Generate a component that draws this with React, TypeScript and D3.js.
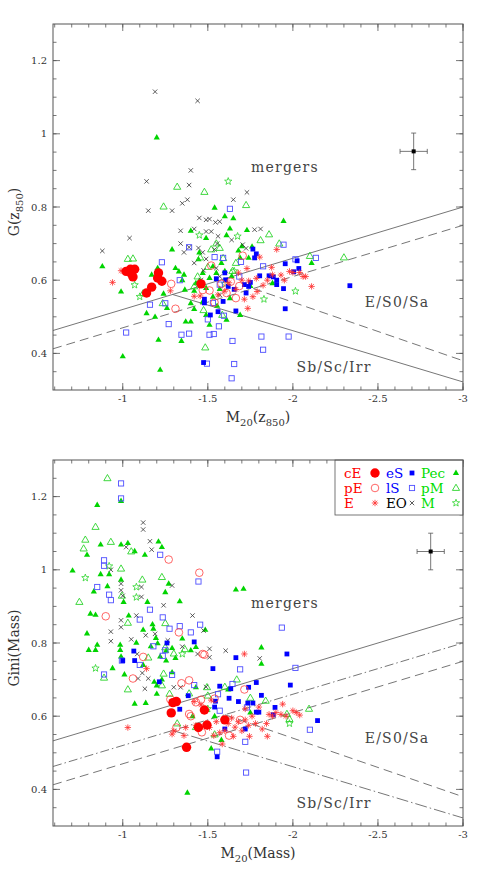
import React from 'react';
import * as d3 from 'd3';

type Pt = [number, number];

// axis setup
const xDomain: [number, number] = [-0.59, -3];
const yDomain: [number, number] = [0.3, 1.3];
const xTicks = [-1, -1.5, -2, -2.5, -3];
const yTicks = [0.4, 0.6, 0.8, 1, 1.2];

// ---------- top panel: G(z850) vs M20(z850) ----------
const topCE: Pt[] = [[-1.02,0.624],[-1.045,0.63],[-1.07,0.63],[-1.05,0.618],[-1.06,0.609],[-1.21,0.62],[-1.205,0.606],[-1.23,0.597],[-1.17,0.581],[-1.14,0.565],[-1.46,0.59]];
const topPE: Pt[] = [[-1.705,0.667],[-1.285,0.59],[-1.31,0.522],[-1.54,0.539],[-1.665,0.551],[-1.635,0.596],[-1.51,0.572],[-1.685,0.584],[-1.61,0.565],[-1.52,0.64],[-1.47,0.573],[-1.58,0.59]];
const topE: Pt[] = [[-0.94,0.594],[-0.99,0.626],[-1.73,0.632],[-1.805,0.663],[-1.905,0.684],[-1.875,0.635],[-1.93,0.614],[-1.98,0.624],[-2.04,0.621],[-2.075,0.61],[-2.11,0.583],[-1.735,0.523],[-1.79,0.569],[-1.765,0.555],[-1.74,0.598],[-1.825,0.586],[-1.785,0.605],[-1.665,0.575],[-1.625,0.593],[-1.42,0.556],[-1.455,0.557],[-1.28,0.571],[-1.715,0.548],[-2.0,0.621],[-1.85,0.6],[-1.7,0.6],[-1.6,0.57],[-1.56,0.56],[-1.68,0.62],[-1.88,0.615],[-1.95,0.6],[-2.06,0.61]];
const topES: Pt[] = [[-1.765,0.685],[-1.785,0.672],[-1.775,0.661],[-1.955,0.645],[-2.025,0.653],[-2.035,0.632],[-2.005,0.623],[-1.86,0.612],[-1.885,0.609],[-1.905,0.6],[-1.905,0.588],[-1.945,0.577],[-1.955,0.522],[-2.335,0.585],[-1.805,0.612],[-1.75,0.594],[-1.74,0.583],[-1.715,0.588],[-1.725,0.565],[-1.605,0.601],[-1.55,0.604],[-1.655,0.575],[-1.62,0.583],[-1.59,0.542],[-1.56,0.514],[-1.515,0.505],[-1.48,0.548],[-1.48,0.538],[-1.475,0.375],[-1.665,0.516],[-1.6,0.62]];
const topLS: Pt[] = [[-1.63,0.795],[-1.945,0.697],[-1.39,0.69],[-1.23,0.649],[-1.54,0.663],[-1.59,0.661],[-1.695,0.65],[-2.135,0.661],[-2.015,0.657],[-1.825,0.638],[-1.335,0.6],[-1.25,0.537],[-1.16,0.533],[-1.27,0.48],[-1.02,0.457],[-1.345,0.451],[-1.39,0.454],[-1.5,0.493],[-1.51,0.451],[-1.535,0.453],[-1.565,0.474],[-1.595,0.503],[-1.645,0.434],[-1.815,0.446],[-1.975,0.446],[-1.825,0.41],[-1.495,0.372],[-1.655,0.371],[-1.64,0.332],[-1.53,0.538],[-1.57,0.588],[-1.685,0.61]];
const topEO: Pt[] = [[-1.19,1.115],[-1.44,1.09],[-1.4,0.9],[-1.14,0.87],[-1.39,0.86],[-1.38,0.82],[-1.35,0.81],[-1.15,0.79],[-1.29,0.79],[-1.73,0.84],[-1.65,0.82],[-1.04,0.715],[-0.88,0.68],[-1.45,0.77],[-1.49,0.765],[-1.51,0.767],[-1.545,0.758],[-1.57,0.76],[-1.34,0.735],[-1.42,0.74],[-1.49,0.733],[-1.52,0.733],[-1.56,0.72],[-1.64,0.71],[-1.775,0.738],[-1.81,0.74],[-1.34,0.7],[-1.39,0.69],[-1.555,0.7],[-1.725,0.687],[-1.36,0.676],[-1.445,0.688],[-1.47,0.676],[-1.49,0.658],[-1.42,0.647],[-1.55,0.633],[-1.475,0.627],[-1.57,0.61],[-1.46,0.6],[-1.57,0.56],[-1.54,0.684],[-1.705,0.697]];
const topPec: Pt[] = [[-1.2,0.99],[-0.88,0.638],[-0.99,0.569],[-1.0,0.392],[-1.14,0.51],[-1.19,0.5],[-1.21,0.437],[-1.22,0.355],[-1.17,0.615],[-1.205,0.633],[-1.24,0.563],[-1.26,0.524],[-1.29,0.684],[-1.31,0.633],[-1.33,0.624],[-1.36,0.615],[-1.365,0.574],[-1.345,0.434],[-1.37,0.487],[-1.4,0.487],[-1.4,0.735],[-1.45,0.676],[-1.49,0.715],[-1.445,0.657],[-1.45,0.598],[-1.42,0.571],[-1.4,0.537],[-1.42,0.521],[-1.51,0.478],[-1.54,0.798],[-1.6,0.775],[-1.65,0.769],[-1.63,0.741],[-1.61,0.723],[-1.73,0.737],[-1.945,0.762],[-1.76,0.692],[-1.68,0.681],[-1.7,0.693],[-1.69,0.661],[-1.74,0.661],[-1.58,0.647],[-1.53,0.638],[-1.47,0.62],[-1.51,0.606],[-1.55,0.62],[-1.6,0.625],[-1.64,0.611],[-1.49,0.579],[-1.57,0.576],[-1.63,0.551],[-1.555,0.53],[-1.61,0.492],[-1.69,0.505],[-1.75,0.584],[-1.88,0.592],[-2.11,0.647],[-1.53,0.555],[-1.47,0.541],[-1.43,0.592],[-1.49,0.505],[-1.35,0.6]];
const topPM: Pt[] = [[-1.32,0.855],[-1.48,0.841],[-1.24,0.801],[-1.725,0.805],[-1.03,0.658],[-1.06,0.659],[-1.86,0.725],[-1.81,0.709],[-1.92,0.7],[-2.1,0.666],[-2.3,0.662],[-1.52,0.684],[-1.57,0.688],[-1.665,0.647],[-1.5,0.636],[-1.42,0.583],[-1.475,0.518],[-1.485,0.416],[-1.585,0.505],[-1.235,0.537],[-1.12,0.564],[-1.455,0.662],[-1.645,0.625],[-1.59,0.66],[-1.44,0.61],[-1.55,0.7]];
const topM: Pt[] = [[-1.62,0.87],[-1.675,0.72],[-1.07,0.587],[-2.015,0.57],[-1.45,0.723],[-1.655,0.625],[-1.1,0.555],[-1.83,0.548],[-1.6,0.59]];

// ---------- bottom panel: Gini(Mass) vs M20(Mass) ----------
const botCE: Pt[] = [[-1.295,0.637],[-1.315,0.64],[-1.285,0.609],[-1.48,0.617],[-1.375,0.515],[-1.445,0.569],[-1.495,0.576],[-1.6,0.59]];
const botPE: Pt[] = [[-1.27,1.028],[-0.9,0.873],[-1.45,0.992],[-1.33,0.829],[-1.06,0.703],[-1.12,0.762],[-1.39,0.698],[-1.47,0.77],[-1.48,0.768],[-1.28,0.646],[-1.43,0.638],[-1.46,0.645],[-1.54,0.648],[-1.715,0.673],[-1.315,0.569],[-1.39,0.606],[-1.465,0.556],[-1.625,0.547],[-1.345,0.69],[-1.4,0.6],[-1.69,0.59]];
const botE: Pt[] = [[-1.03,0.569],[-1.14,0.73],[-1.715,0.77],[-1.46,0.631],[-1.52,0.644],[-1.37,0.569],[-1.29,0.551],[-1.36,0.547],[-1.51,0.569],[-1.535,0.547],[-1.585,0.524],[-1.6,0.56],[-1.62,0.58],[-1.64,0.595],[-1.66,0.57],[-1.68,0.585],[-1.7,0.56],[-1.72,0.59],[-1.74,0.575],[-1.745,0.545],[-1.76,0.6],[-1.78,0.58],[-1.8,0.625],[-1.82,0.565],[-1.845,0.58],[-1.86,0.605],[-1.88,0.6],[-1.9,0.61],[-1.93,0.605],[-1.94,0.633],[-1.96,0.6],[-2.0,0.615],[-2.02,0.61],[-2.04,0.603],[-1.85,0.545],[-1.55,0.585],[-1.57,0.555],[-1.65,0.545],[-1.72,0.62],[-1.3,0.56],[-1.42,0.64],[-1.43,0.575]];
const botES: Pt[] = [[-1.065,0.778],[-1.07,0.752],[-1.0,0.752],[-1.42,0.803],[-1.665,0.76],[-1.965,0.77],[-1.985,0.685],[-1.215,0.694],[-1.335,0.619],[-1.385,0.656],[-1.54,0.625],[-1.545,0.641],[-1.57,0.682],[-1.625,0.649],[-1.635,0.675],[-1.68,0.64],[-1.74,0.679],[-1.735,0.636],[-1.765,0.636],[-1.785,0.692],[-1.785,0.611],[-1.8,0.611],[-1.815,0.657],[-1.895,0.624],[-1.885,0.604],[-2.145,0.588],[-1.555,0.489],[-1.53,0.73],[-1.72,0.565],[-1.6,0.565],[-1.26,0.8]];
const botLS: Pt[] = [[-0.99,1.236],[-0.99,1.195],[-1.22,1.041],[-0.89,1.026],[-0.89,1.011],[-0.85,0.953],[-0.92,0.932],[-0.93,0.917],[-0.89,0.714],[-0.995,0.752],[-1.1,0.864],[-1.16,0.891],[-1.235,0.87],[-1.275,0.839],[-1.335,0.846],[-1.4,0.829],[-1.455,0.85],[-1.445,0.968],[-1.18,0.791],[-1.235,0.765],[-1.29,0.713],[-1.935,0.842],[-2.015,0.732],[-1.69,0.728],[-1.645,0.688],[-1.73,0.624],[-2.1,0.563],[-1.72,0.53],[-1.725,0.446],[-1.555,0.503],[-1.1,0.74],[-1.25,0.78],[-1.56,0.66],[-1.42,0.685],[-1.57,0.615]];
const botEO: Pt[] = [[-1.12,1.129],[-1.12,1.11],[-1.02,1.062],[-1.16,1.078],[-1.17,1.055],[-0.93,1.0],[-0.99,0.962],[-0.99,0.944],[-1.0,0.929],[-0.99,0.862],[-0.99,0.843],[-0.93,0.831],[-0.93,0.805],[-1.085,0.77],[-1.09,0.703],[-1.115,0.718],[-1.08,0.875],[-1.11,0.953],[-1.11,0.926],[-1.24,0.903],[-1.29,0.957],[-1.41,0.875],[-1.475,0.834],[-1.135,0.821],[-1.19,0.825],[-1.265,0.807],[-1.51,0.784],[-1.51,0.761],[-1.605,0.779],[-1.805,0.758],[-1.13,0.675],[-1.15,0.703],[-1.3,0.679],[-1.34,0.679],[-1.35,0.79],[-1.44,0.77],[-1.49,0.68],[-1.05,0.81]];
const botPec: Pt[] = [[-0.99,1.188],[-0.85,1.177],[-0.79,1.041],[-0.87,1.069],[-0.99,1.069],[-1.03,1.073],[-1.07,1.051],[-1.13,1.041],[-1.21,1.077],[-1.23,1.062],[-0.705,0.998],[-0.87,0.988],[-0.92,0.988],[-0.99,0.973],[-1.005,0.912],[-0.83,0.941],[-0.91,0.955],[-0.81,0.88],[-0.84,0.877],[-0.79,0.826],[-0.8,0.781],[-0.84,0.781],[-0.85,0.795],[-0.94,0.731],[-0.985,0.795],[-0.985,0.781],[-0.99,0.763],[-1.01,0.714],[-1.07,0.634],[-1.08,0.801],[-1.035,0.875],[-1.145,0.912],[-1.25,0.939],[-1.27,0.962],[-1.335,0.914],[-1.35,0.812],[-1.485,0.836],[-1.12,0.836],[-1.175,0.851],[-1.18,0.839],[-1.195,0.814],[-1.205,0.799],[-1.165,0.791],[-1.255,0.779],[-1.255,0.752],[-1.22,0.763],[-1.29,0.786],[-1.31,0.759],[-1.4,0.78],[-1.43,0.789],[-1.815,0.788],[-1.815,0.743],[-1.665,0.946],[-1.71,0.948],[-1.135,0.636],[-1.185,0.694],[-1.2,0.684],[-1.2,0.661],[-1.29,0.72],[-1.43,0.679],[-1.49,0.617],[-1.62,0.673],[-1.52,0.512],[-1.58,0.535],[-1.38,0.391],[-1.23,0.7],[-1.12,0.74],[-1.41,0.6],[-1.54,0.6],[-1.75,0.61]];
const botPM: Pt[] = [[-0.91,1.25],[-0.84,1.117],[-0.78,1.082],[-0.77,1.058],[-0.93,1.076],[-1.05,1.05],[-0.99,1.003],[-0.995,0.929],[-0.745,0.912],[-0.89,0.705],[-1.03,0.673],[-1.03,0.855],[-1.115,0.973],[-1.23,0.98],[-1.25,0.854],[-1.25,0.788],[-1.3,0.771],[-1.365,0.783],[-1.23,0.684],[-1.24,0.716],[-1.275,0.661],[-1.39,0.662],[-1.5,0.656],[-1.495,0.679],[-1.84,0.642],[-1.965,0.606],[-1.98,0.592],[-2.095,0.62],[-1.32,0.58],[-1.43,0.57],[-1.54,0.55],[-1.67,0.7],[-1.6,0.68],[-1.75,0.65],[-1.15,0.76]];
const botM: Pt[] = [[-0.78,0.978],[-0.92,1.01],[-0.84,0.731],[-1.08,0.953],[-1.08,0.925],[-1.5,0.62],[-1.35,0.77],[-1.98,0.58]];

// typical error bar: [M20, G, dM20, dG]
const topErr = [-2.71, 0.952, 0.08, 0.05];
const botErr = [-2.81, 1.05, 0.08, 0.05];

// classification lines: [slope, intercept, M20 start, M20 end]
const topLines = [[-0.14, 0.38, -0.59, -3], [-0.14, 0.33, -0.59, -3], [0.14, 0.742, -1.293, -3], [0.16, 0.86, -1.767, -3]];
const botLines = [[-0.14, 0.45, -0.59, -3], [-0.14, 0.38, -0.59, -3], [-0.14, 0.33, -0.59, -3], [0.14, 0.742, -1.293, -3], [0.16, 0.86, -1.6, -3]];

const legendRows = [['cE', 'eS', 'Pec'], ['pE', 'lS', 'pM'], ['E', 'EO', 'M']];

const RED = '#ff0000';
const BLUE = '#0000ff';
const GREEN = '#00d400';
const LGREEN = '#2bd42b';
const SERIF = '"DejaVu Serif", "Liberation Serif", serif';

const kindColor: Record<string, string> = {
  cE: RED, pE: RED, E: RED, eS: BLUE, lS: BLUE, EO: '#000', Pec: '#00dd00', pM: '#00dd00', M: '#00dd00',
};

const starPath = (() => {
  const pts: string[] = [];
  for (let i = 0; i < 10; i++) {
    const r = i % 2 === 0 ? 3.8 : 1.6;
    const a = -Math.PI / 2 + (i * Math.PI) / 5;
    pts.push(`${(r * Math.cos(a)).toFixed(2)},${(r * Math.sin(a)).toFixed(2)}`);
  }
  return 'M' + pts.join('L') + 'Z';
})();

function Marker({ kind, x, y }: { kind: string; x: number; y: number }) {
  const t = `translate(${x},${y})`;
  switch (kind) {
    case 'cE':
      return <circle cx={x} cy={y} r={4.7} fill={RED} />;
    case 'pE':
      return <circle cx={x} cy={y} r={3.8} fill="none" stroke="#ff4040" strokeWidth={0.8} />;
    case 'E':
      return (
        <path transform={t} d="M0,-3.2L0,3.2M-3.2,0L3.2,0M-2.3,-2.3L2.3,2.3M-2.3,2.3L2.3,-2.3"
          stroke="#ff3030" strokeWidth={0.8} fill="none" />
      );
    case 'eS':
      return <rect x={x - 2.4} y={y - 2.4} width={4.8} height={4.8} fill={BLUE} />;
    case 'lS':
      return <rect x={x - 2.6} y={y - 2.6} width={5.2} height={5.2} fill="none" stroke="#4f4fff" strokeWidth={0.9} />;
    case 'EO':
      return <path transform={t} d="M-2.2,-2.2L2.2,2.2M-2.2,2.2L2.2,-2.2" stroke="#333" strokeWidth={0.8} />;
    case 'Pec':
      return <path transform={t} d="M0,-3.4L3.1,2L-3.1,2Z" fill={GREEN} />;
    case 'pM':
      return <path transform={t} d="M0,-3.8L3.6,2.4L-3.6,2.4Z" fill="none" stroke={LGREEN} strokeWidth={0.9} />;
    case 'M':
      return <path transform={t} d={starPath} fill="none" stroke={LGREEN} strokeWidth={0.8} />;
    default:
      return null;
  }
}

type Series = { kind: string; pts: Pt[] };

function Panel(props: {
  top: number;
  series: Series[];
  lines: number[][];
  lineDash: string[];
  err: number[];
  xLabel: React.ReactNode;
  yLabel: React.ReactNode;
  legend?: boolean;
}) {
  const { top, series, lines, lineDash, err, xLabel, yLabel, legend } = props;
  const left = 53, right = 463, h = 366;
  const bottom = top + h;
  const x = d3.scaleLinear().domain(xDomain).range([left, right]);
  const y = d3.scaleLinear().domain(yDomain).range([bottom, top]);

  const xMinor = d3.range(-0.6, -3.001, -0.1);
  const yMinor = d3.range(0.35, 1.3, 0.05);
  const frame = '#555';

  const clipId = `clip${top}`;

  return (
    <g>
      <defs>
        <clipPath id={clipId}>
          <rect x={left} y={top} width={right - left} height={h} />
        </clipPath>
      </defs>
      {/* ticks on all four sides, pointing in */}
      {xMinor.map((v, i) => (
        <g key={'xm' + i} stroke={frame} strokeWidth={0.8}>
          <line x1={x(v)} x2={x(v)} y1={bottom} y2={bottom - 3.5} />
          <line x1={x(v)} x2={x(v)} y1={top} y2={top + 3.5} />
        </g>
      ))}
      {xTicks.map((v) => (
        <g key={'xM' + v} stroke={frame} strokeWidth={0.8}>
          <line x1={x(v)} x2={x(v)} y1={bottom} y2={bottom - 7} />
          <line x1={x(v)} x2={x(v)} y1={top} y2={top + 7} />
        </g>
      ))}
      {yMinor.map((v, i) => (
        <g key={'ym' + i} stroke={frame} strokeWidth={0.8}>
          <line x1={left} x2={left + 3.5} y1={y(v)} y2={y(v)} />
          <line x1={right} x2={right - 3.5} y1={y(v)} y2={y(v)} />
        </g>
      ))}
      {yTicks.map((v) => (
        <g key={'yM' + v} stroke={frame} strokeWidth={0.8}>
          <line x1={left} x2={left + 7} y1={y(v)} y2={y(v)} />
          <line x1={right} x2={right - 7} y1={y(v)} y2={y(v)} />
        </g>
      ))}
      {xTicks.map((v) => (
        <text key={'xl' + v} x={x(v)} y={bottom + 12} textAnchor="middle" fontSize={10} fill="#333" fontFamily={SERIF}>
          {String(v)}
        </text>
      ))}
      {yTicks.map((v) => (
        <text key={'yl' + v} x={left - 6} y={y(v) + 3.5} textAnchor="end" fontSize={10} fill="#333" fontFamily={SERIF}>
          {String(v)}
        </text>
      ))}

      {/* classification lines */}
      <g clipPath={`url(#${clipId})`}>
        {lines.map((l, i) => (
          <line key={'ln' + i}
            x1={x(l[2])} y1={y(l[0] * l[2] + l[1])}
            x2={x(l[3])} y2={y(l[0] * l[3] + l[1])}
            stroke="#666" strokeWidth={0.9} strokeDasharray={lineDash[i]} />
        ))}
      </g>

      {/* data */}
      <g clipPath={`url(#${clipId})`}>
        {series.map((s) => (
          <g key={s.kind}>
            {s.pts.map((p, i) => (
              <Marker key={i} kind={s.kind} x={x(p[0])} y={y(p[1])} />
            ))}
          </g>
        ))}
      </g>

      {/* error bar */}
      <g stroke="#555" strokeWidth={0.8}>
        <line x1={x(err[0] + err[2])} x2={x(err[0] - err[2])} y1={y(err[1])} y2={y(err[1])} />
        <line x1={x(err[0])} x2={x(err[0])} y1={y(err[1] - err[3])} y2={y(err[1] + err[3])} />
        <line x1={x(err[0] + err[2])} x2={x(err[0] + err[2])} y1={y(err[1]) - 2.5} y2={y(err[1]) + 2.5} />
        <line x1={x(err[0] - err[2])} x2={x(err[0] - err[2])} y1={y(err[1]) - 2.5} y2={y(err[1]) + 2.5} />
        <line x1={x(err[0]) - 2.5} x2={x(err[0]) + 2.5} y1={y(err[1] - err[3])} y2={y(err[1] - err[3])} />
        <line x1={x(err[0]) - 2.5} x2={x(err[0]) + 2.5} y1={y(err[1] + err[3])} y2={y(err[1] + err[3])} />
      </g>
      <rect x={x(err[0]) - 2} y={y(err[1]) - 2} width={4} height={4} fill="#000" />

      {/* region labels */}
      <g fontFamily={SERIF} fontSize={14} fill="#444" letterSpacing={1.2}>
        <text x={285} y={top + 148} textAnchor="middle">mergers</text>
        <text x={397} y={top + 283} textAnchor="middle">E/S0/Sa</text>
        <text x={334} y={top + 348} textAnchor="middle">Sb/Sc/Irr</text>
      </g>

      {legend && (
        <g>
          <rect x={335} y={top} width={right - 335} height={55} fill="#fff" stroke={frame} strokeWidth={0.8} />
          {legendRows.map((row, r) =>
            row.map((k, c) => {
              const tx = [344, 386, 421][c];
              const mx = [375, 412, 456][c];
              const by = top + 18 + r * 15;
              return (
                <g key={k}>
                  <text x={tx} y={by} fontSize={13.5} fontFamily={SERIF} fill={kindColor[k]}>{k}</text>
                  <Marker kind={k} x={mx} y={by - 5} />
                </g>
              );
            })
          )}
        </g>
      )}

      <rect x={left} y={top} width={right - left} height={h} fill="none" stroke={frame} strokeWidth={1} />

      <text x={258} y={bottom + 32} textAnchor="middle" fontSize={14} fill="#333" fontFamily={SERIF}>{xLabel}</text>
      <text transform={`translate(19,${top + 188}) rotate(-90)`} textAnchor="middle" fontSize={14} fill="#333" fontFamily={SERIF}>
        {yLabel}
      </text>
    </g>
  );
}

export default function App() {
  const topSeries: Series[] = [
    { kind: 'Pec', pts: topPec }, { kind: 'pM', pts: topPM }, { kind: 'M', pts: topM },
    { kind: 'lS', pts: topLS }, { kind: 'EO', pts: topEO }, { kind: 'eS', pts: topES },
    { kind: 'pE', pts: topPE }, { kind: 'E', pts: topE }, { kind: 'cE', pts: topCE },
  ];
  const botSeries: Series[] = [
    { kind: 'Pec', pts: botPec }, { kind: 'pM', pts: botPM }, { kind: 'M', pts: botM },
    { kind: 'lS', pts: botLS }, { kind: 'EO', pts: botEO }, { kind: 'eS', pts: botES },
    { kind: 'pE', pts: botPE }, { kind: 'E', pts: botE }, { kind: 'cE', pts: botCE },
  ];
  return (
    <div style={{ position: 'absolute', left: 0, top: 0 }}>
      <svg width={491} height={872} style={{ display: 'block', background: '#fff' }}>
        <Panel
          top={24}
          series={topSeries}
          lines={topLines}
          lineDash={['', '9,5', '', '9,5']}
          err={topErr}
          xLabel={<>M<tspan fontSize={10} dy={4}>20</tspan><tspan dy={-4}>(z</tspan><tspan fontSize={10} dy={4}>850</tspan><tspan dy={-4}>)</tspan></>}
          yLabel={<>G(z<tspan fontSize={10} dy={4}>850</tspan><tspan dy={-4}>)</tspan></>}
        />
        <Panel
          top={460}
          series={botSeries}
          lines={botLines}
          lineDash={['', '9,3,1.5,3', '9,5', '12,3,1.5,3', '9,5']}
          err={botErr}
          legend
          xLabel={<>M<tspan fontSize={10} dy={4}>20</tspan><tspan dy={-4}>(Mass)</tspan></>}
          yLabel={<>Gini(Mass)</>}
        />
      </svg>
    </div>
  );
}
